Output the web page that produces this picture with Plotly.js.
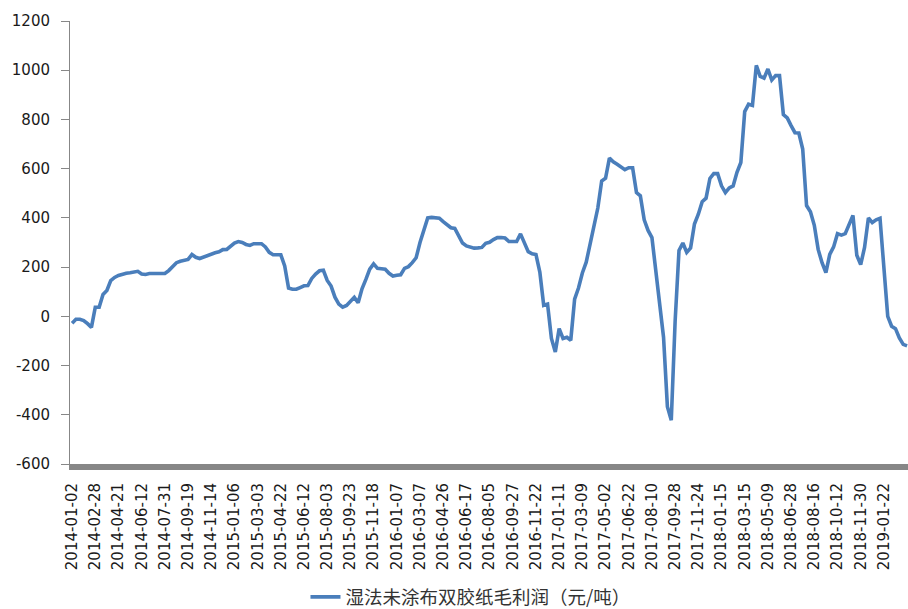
<!DOCTYPE html>
<html>
<head>
<meta charset="utf-8">
<script src="https://cdn.plot.ly/plotly-3.0.1.min.js"></script>
<style>
html,body{margin:0;padding:0;background:#fff;}
#chart{width:908px;height:609px;}
</style>
</head>
<body>
<div id="chart"></div>
<script>
// Tick labels on the category (trading day) axis
const dateLabels = [
  "2014-01-02","2014-02-28","2014-04-21","2014-06-12","2014-07-31","2014-09-19","2014-11-14",
  "2015-01-06","2015-03-03","2015-04-22","2015-06-12","2015-08-03","2015-09-23","2015-11-18",
  "2016-01-07","2016-03-07","2016-04-26","2016-06-17","2016-08-05","2016-09-27","2016-11-22",
  "2017-01-11","2017-03-09","2017-05-02","2017-06-22","2017-08-10","2017-09-28","2017-11-24",
  "2018-01-15","2018-03-15","2018-05-09","2018-06-28","2018-08-16","2018-10-12","2018-11-30",
  "2019-01-22"
];
// samples per label interval
const samplesPerLabel = 6;
// 湿法未涂布双胶纸毛利润 (元/吨)
const profit = [
  -28,-12,-12,-17,-30,-45,37,37,89,105,
  145,158,166,171,175,177,180,183,172,170,
  174,174,174,174,174,186,202,218,224,228,
  231,251,240,235,241,247,255,258,262,271,
  272,284,298,304,300,292,288,295,294,295,
  282,260,250,250,250,205,115,110,110,117,
  124,125,154,172,185,187,146,123,78,50,
  37,44,59,77,55,112,150,192,213,195,
  193,191,175,164,167,169,195,202,218,238,
  300,345,400,402,402,399,385,370,360,357,
  325,298,286,280,277,278,280,297,301,312,
  320,320,318,304,304,304,335,300,263,254,
  251,180,45,50,-90,-145,-50,-90,-85,-97,
  70,115,176,220,297,378,440,550,561,643,
  628,618,607,596,604,604,503,490,392,349,
  320,180,60,-85,-367,-422,-20,268,298,260,
  278,375,415,466,480,560,580,580,530,503,
  522,530,585,625,832,862,857,1020,975,968,
  1005,960,978,978,820,806,775,746,745,680,
  450,425,370,272,218,178,252,282,336,330,
  336,376,410,248,210,280,400,381,392,398,
  207,0,-40,-50,-88,-114,-120
];
const yTickVals = [-600,-400,-200,0,200,400,600,800,1000,1200];
const yTickText = ["-600","-400","-200","0","200","400","600","800","1000","1200"];
const seriesName = "湿法未涂布双胶纸毛利润（元/吨）";

const xs = profit.map((v, i) => i / samplesPerLabel);
const tickPos = dateLabels.map((d, i) => i);

const trace = {
  x: xs, y: profit, type: "scatter", mode: "lines", name: seriesName,
  line: {color: "#4a7ebb", width: 3.6}, hoverinfo: "skip"
};

const layout = {
  width: 908, height: 609,
  margin: {l: 70, r: 0, t: 21, b: 145, autoexpand: false},
  paper_bgcolor: "#fff", plot_bgcolor: "#fff",
  font: {family: "DejaVu Sans, Verdana, sans-serif", size: 15, color: "#1a1a1a"},
  showlegend: true,
  legend: {
    orientation: "h", x: 0.281, xanchor: "left", y: -0.301, yanchor: "middle",
    font: {family: "Noto Sans CJK SC, sans-serif", size: 18.5, color: "#333"},
    bgcolor: "rgba(0,0,0,0)"
  },
  xaxis: {
    type: "linear", range: [-0.09, 36.04], automargin: false,
    tickmode: "array", tickvals: tickPos, ticktext: dateLabels,
    tickangle: -90, ticks: "outside", ticklen: 7, tickcolor: "rgba(0,0,0,0)",
    showline: true, linecolor: "#878787", linewidth: 6,
    showgrid: false, zeroline: false,
    tickfont: {family: "DejaVu Sans, Verdana, sans-serif", size: 15, color: "#1a1a1a"}
  },
  yaxis: {
    range: [-600, 1200], automargin: false,
    tickmode: "array", tickvals: yTickVals, ticktext: yTickText,
    ticks: "outside", ticklen: 8, tickcolor: "#878787", tickwidth: 1,
    showline: true, linecolor: "#878787", linewidth: 1,
    showgrid: false, zeroline: false,
    ticklabelstandoff: 8,
    tickfont: {family: "DejaVu Sans, Verdana, sans-serif", size: 15, color: "#1a1a1a"}
  }
};

Plotly.newPlot("chart", [trace], layout, {staticPlot: true, displayModeBar: false});
</script>
</body>
</html>
